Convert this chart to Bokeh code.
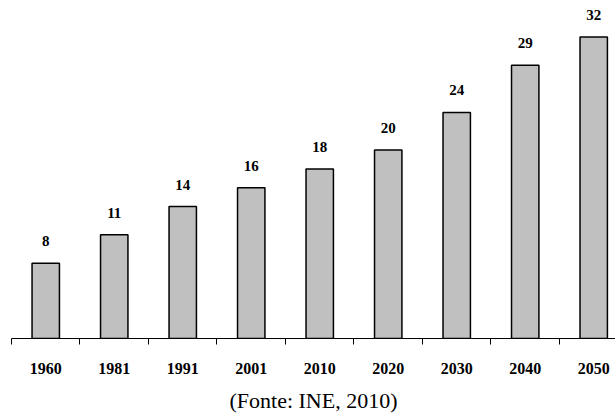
from bokeh.plotting import figure
from bokeh.models import FixedTicker, Range1d, ColumnDataSource, Title
from bokeh.core.properties import value
from bokeh.embed import file_html
from bokeh.resources import INLINE

years = ["1960", "1981", "1991", "2001", "2010", "2020", "2030", "2040", "2050"]
values = [8, 11, 14, 16, 18, 20, 24, 29, 32]

xs = [i + 0.5 for i in range(len(years))]
src = ColumnDataSource(dict(x=xs, top=values, label=[str(v) for v in values]))

p = figure(frame_width=604, frame_height=330, output_backend="svg", toolbar_location=None,
           x_range=Range1d(0, 8.818), y_range=Range1d(0, 35.03),
           min_border_left=11, min_border_right=0, min_border_top=8, min_border_bottom=0)
p.outline_line_color = None
p.grid.visible = False
p.yaxis.visible = False
p.background_fill_color = "white"
p.border_fill_color = "white"

p.vbar(x="x", top="top", width=0.4, bottom=0, source=src,
       fill_color="#c0c0c0", line_color="black", line_width=1.5)

p.text(x="x", y="top", text="label", source=src, y_offset=-22,
       text_align="center", text_baseline="middle",
       text_font=value("Liberation Serif"), text_font_style="bold",
       text_font_size="15px", text_color="black")

ax = p.xaxis[0]
ax.ticker = FixedTicker(ticks=xs, minor_ticks=list(range(len(years))))
ax.major_label_overrides = {x: y for x, y in zip(xs, years)}
ax.major_tick_line_color = None
ax.major_tick_out = 0
ax.major_tick_in = 0
ax.minor_tick_out = 6
ax.minor_tick_in = 0
ax.minor_tick_line_color = "black"
ax.axis_line_color = "black"
ax.axis_line_width = 1
ax.major_label_standoff = 18
ax.major_label_text_font = "Liberation Serif"
ax.major_label_text_font_style = "bold"
ax.major_label_text_font_size = "16px"
ax.major_label_text_color = "black"

cap = Title(text="(Fonte: INE, 2010)", align="center", text_font="Liberation Serif",
            text_font_size="22px", text_font_style="normal", text_color="black",
            standoff=19)
p.add_layout(cap, "below")

open("out.html", "w").write(file_html(p, INLINE))
